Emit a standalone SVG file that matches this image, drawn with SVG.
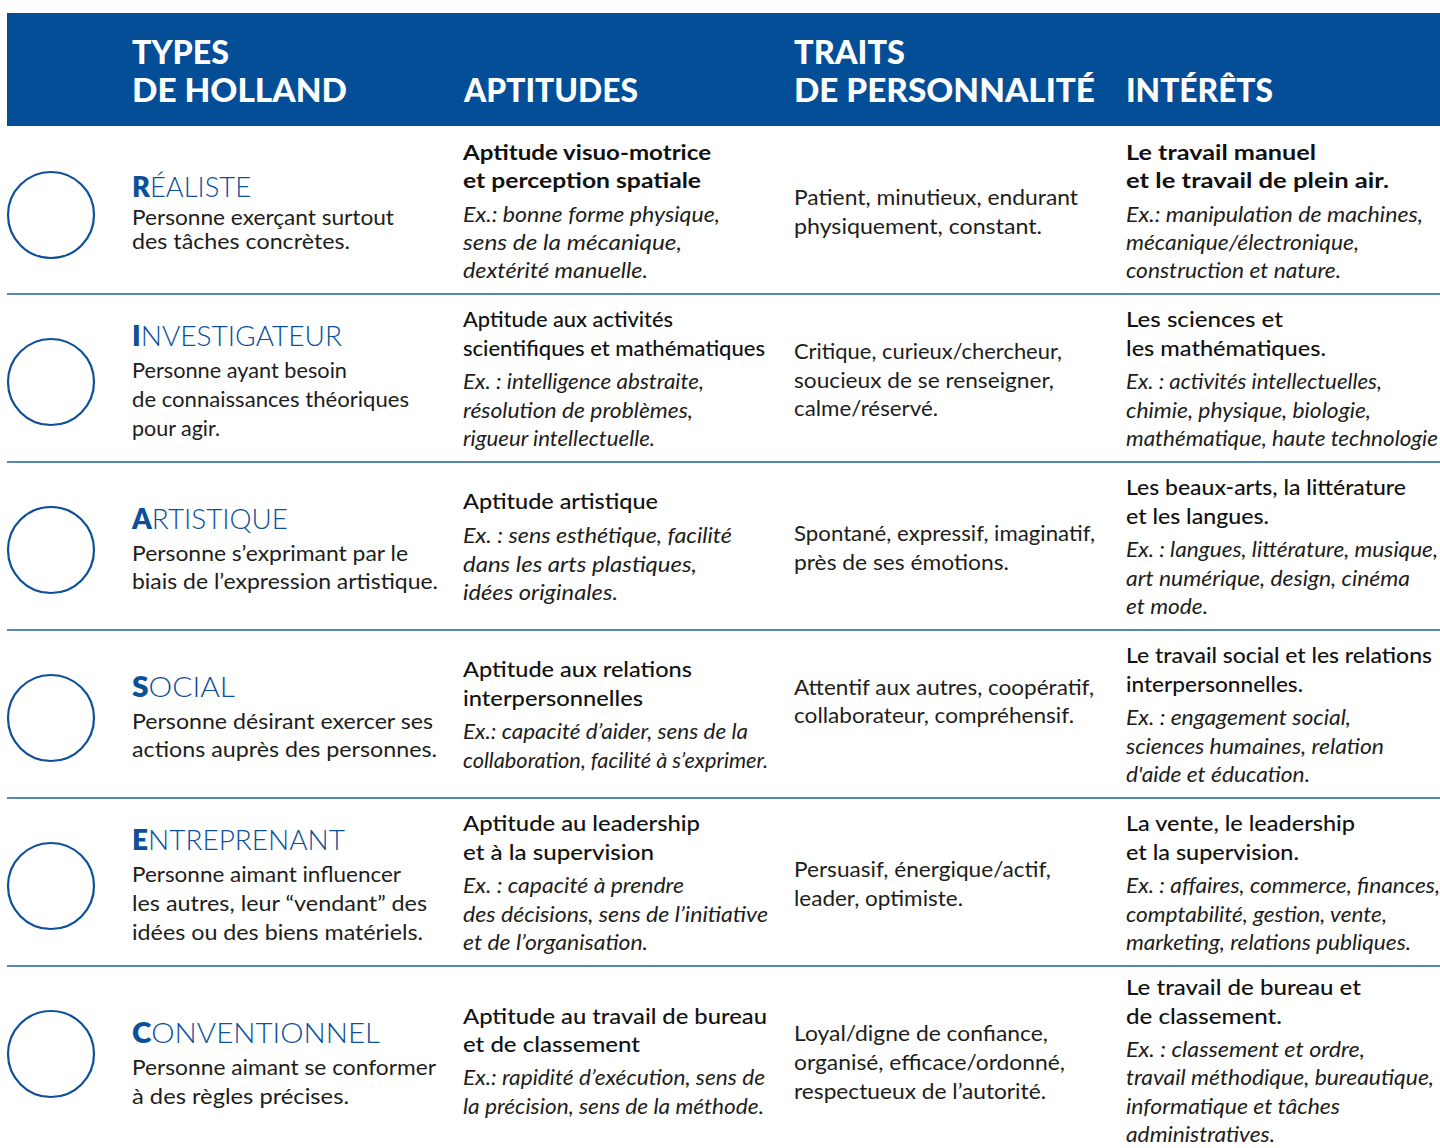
<svg xmlns="http://www.w3.org/2000/svg" width="1440" height="1148" viewBox="0 0 1440 1148">
<style>
text{font-family:Lato,"Noto Sans","Liberation Sans",sans-serif;}
.h{font-size:33px;font-weight:900;fill:#ffffff;}
.t{font-size:28px;font-weight:300;fill:#0c4f9b;}
.t tspan{font-weight:800;}
.b{font-size:21.5px;fill:#1d1d1b;}
.s{font-size:21.5px;font-weight:500;fill:#111111;}
.s1{font-size:21.5px;font-weight:700;fill:#111111;}
.i{font-size:21.5px;font-style:italic;fill:#1d1d1b;}
.c{fill:#ffffff;stroke:#0c4f9b;stroke-width:2.2;}
.r{stroke:#1c5ea8;stroke-width:1.6;}
</style>
<rect width="1440" height="1148" fill="#ffffff"/>
<g id="header">
<rect x="7" y="13" width="1433" height="113" fill="#044e98"/>
<text class="h" x="132" y="64" textLength="97" lengthAdjust="spacingAndGlyphs">TYPES</text>
<text class="h" x="132" y="102" textLength="215" lengthAdjust="spacingAndGlyphs">DE HOLLAND</text>
<text class="h" x="464" y="102" textLength="174" lengthAdjust="spacingAndGlyphs">APTITUDES</text>
<text class="h" x="794" y="64" textLength="111" lengthAdjust="spacingAndGlyphs">TRAITS</text>
<text class="h" x="794" y="102" textLength="301" lengthAdjust="spacingAndGlyphs">DE PERSONNALITÉ</text>
<text class="h" x="1126" y="102" textLength="147" lengthAdjust="spacingAndGlyphs">INTÉRÊTS</text>
</g>
<g id="rules">
<line class="r" x1="7" y1="294" x2="1440" y2="294"/>
<line class="r" x1="7" y1="462" x2="1440" y2="462"/>
<line class="r" x1="7" y1="630" x2="1440" y2="630"/>
<line class="r" x1="7" y1="798" x2="1440" y2="798"/>
<line class="r" x1="7" y1="966" x2="1440" y2="966"/>
</g>
<g id="realiste">
<circle class="c" cx="51" cy="215" r="43"/>
<text class="t" x="132" y="197" textLength="119" lengthAdjust="spacingAndGlyphs"><tspan>R</tspan>ÉALISTE</text>
<text class="b" x="132" y="225" textLength="262" lengthAdjust="spacingAndGlyphs">Personne exerçant surtout</text>
<text class="b" x="132" y="249" textLength="218" lengthAdjust="spacingAndGlyphs">des tâches concrètes.</text>
<text class="s1" x="463" y="160" textLength="248" lengthAdjust="spacingAndGlyphs">Aptitude visuo-motrice</text>
<text class="s1" x="463" y="188" textLength="238" lengthAdjust="spacingAndGlyphs">et perception spatiale</text>
<text class="i" x="463" y="222" textLength="257" lengthAdjust="spacingAndGlyphs">Ex.: bonne forme physique,</text>
<text class="i" x="463" y="250" textLength="219" lengthAdjust="spacingAndGlyphs">sens de la mécanique,</text>
<text class="i" x="463" y="278" textLength="185" lengthAdjust="spacingAndGlyphs">dextérité manuelle.</text>
<text class="b" x="794" y="205" textLength="284" lengthAdjust="spacingAndGlyphs">Patient, minutieux, endurant</text>
<text class="b" x="794" y="234" textLength="248" lengthAdjust="spacingAndGlyphs">physiquement, constant.</text>
<text class="s1" x="1126" y="160" textLength="190" lengthAdjust="spacingAndGlyphs">Le travail manuel</text>
<text class="s1" x="1126" y="188" textLength="263" lengthAdjust="spacingAndGlyphs">et le travail de plein air.</text>
<text class="i" x="1126" y="222" textLength="297" lengthAdjust="spacingAndGlyphs">Ex.: manipulation de machines,</text>
<text class="i" x="1126" y="250" textLength="233" lengthAdjust="spacingAndGlyphs">mécanique/électronique,</text>
<text class="i" x="1126" y="278" textLength="215" lengthAdjust="spacingAndGlyphs">construction et nature.</text>
</g>
<g id="investigateur">
<circle class="c" cx="51" cy="382" r="43"/>
<text class="t" x="132" y="346" textLength="210" lengthAdjust="spacingAndGlyphs"><tspan>I</tspan>NVESTIGATEUR</text>
<text class="b" x="132" y="378" textLength="215" lengthAdjust="spacingAndGlyphs">Personne ayant besoin</text>
<text class="b" x="132" y="407" textLength="277" lengthAdjust="spacingAndGlyphs">de connaissances théoriques</text>
<text class="b" x="132" y="436" textLength="88" lengthAdjust="spacingAndGlyphs">pour agir.</text>
<text class="s" x="463" y="327" textLength="210" lengthAdjust="spacingAndGlyphs">Aptitude aux activités</text>
<text class="s" x="463" y="356" textLength="302" lengthAdjust="spacingAndGlyphs">scientifiques et mathématiques</text>
<text class="i" x="463" y="389" textLength="241" lengthAdjust="spacingAndGlyphs">Ex. : intelligence abstraite,</text>
<text class="i" x="463" y="418" textLength="230" lengthAdjust="spacingAndGlyphs">résolution de problèmes,</text>
<text class="i" x="463" y="446" textLength="192" lengthAdjust="spacingAndGlyphs">rigueur intellectuelle.</text>
<text class="b" x="794" y="359" textLength="268" lengthAdjust="spacingAndGlyphs">Critique, curieux/chercheur,</text>
<text class="b" x="794" y="388" textLength="260" lengthAdjust="spacingAndGlyphs">soucieux de se renseigner,</text>
<text class="b" x="794" y="416" textLength="144" lengthAdjust="spacingAndGlyphs">calme/réservé.</text>
<text class="s" x="1126" y="327" textLength="157" lengthAdjust="spacingAndGlyphs">Les sciences et</text>
<text class="s" x="1126" y="356" textLength="200" lengthAdjust="spacingAndGlyphs">les mathématiques.</text>
<text class="i" x="1126" y="389" textLength="256" lengthAdjust="spacingAndGlyphs">Ex. : activités intellectuelles,</text>
<text class="i" x="1126" y="418" textLength="245" lengthAdjust="spacingAndGlyphs">chimie, physique, biologie,</text>
<text class="i" x="1126" y="446" textLength="312" lengthAdjust="spacingAndGlyphs">mathématique, haute technologie</text>
</g>
<g id="artistique">
<circle class="c" cx="51" cy="550" r="43"/>
<text class="t" x="132" y="529" textLength="156" lengthAdjust="spacingAndGlyphs"><tspan>A</tspan>RTISTIQUE</text>
<text class="b" x="132" y="561" textLength="276" lengthAdjust="spacingAndGlyphs">Personne s’exprimant par le</text>
<text class="b" x="132" y="589" textLength="306" lengthAdjust="spacingAndGlyphs">biais de l’expression artistique.</text>
<text class="s" x="463" y="509" textLength="195" lengthAdjust="spacingAndGlyphs">Aptitude artistique</text>
<text class="i" x="463" y="543" textLength="269" lengthAdjust="spacingAndGlyphs">Ex. : sens esthétique, facilité</text>
<text class="i" x="463" y="572" textLength="234" lengthAdjust="spacingAndGlyphs">dans les arts plastiques,</text>
<text class="i" x="463" y="600" textLength="155" lengthAdjust="spacingAndGlyphs">idées originales.</text>
<text class="b" x="794" y="541" textLength="301" lengthAdjust="spacingAndGlyphs">Spontané, expressif, imaginatif,</text>
<text class="b" x="794" y="570" textLength="215" lengthAdjust="spacingAndGlyphs">près de ses émotions.</text>
<text class="s" x="1126" y="495" textLength="280" lengthAdjust="spacingAndGlyphs">Les beaux-arts, la littérature</text>
<text class="s" x="1126" y="524" textLength="143" lengthAdjust="spacingAndGlyphs">et les langues.</text>
<text class="i" x="1126" y="557" textLength="312" lengthAdjust="spacingAndGlyphs">Ex. : langues, littérature, musique,</text>
<text class="i" x="1126" y="586" textLength="284" lengthAdjust="spacingAndGlyphs">art numérique, design, cinéma</text>
<text class="i" x="1126" y="614" textLength="82" lengthAdjust="spacingAndGlyphs">et mode.</text>
</g>
<g id="social">
<circle class="c" cx="51" cy="718" r="43"/>
<text class="t" x="132" y="697" textLength="103" lengthAdjust="spacingAndGlyphs"><tspan>S</tspan>OCIAL</text>
<text class="b" x="132" y="729" textLength="301" lengthAdjust="spacingAndGlyphs">Personne désirant exercer ses</text>
<text class="b" x="132" y="757" textLength="305" lengthAdjust="spacingAndGlyphs">actions auprès des personnes.</text>
<text class="s" x="463" y="677" textLength="229" lengthAdjust="spacingAndGlyphs">Aptitude aux relations</text>
<text class="s" x="463" y="706" textLength="180" lengthAdjust="spacingAndGlyphs">interpersonnelles</text>
<text class="i" x="463" y="739" textLength="285" lengthAdjust="spacingAndGlyphs">Ex.: capacité d’aider, sens de la</text>
<text class="i" x="463" y="768" textLength="305" lengthAdjust="spacingAndGlyphs">collaboration, facilité à s’exprimer.</text>
<text class="b" x="794" y="695" textLength="300" lengthAdjust="spacingAndGlyphs">Attentif aux autres, coopératif,</text>
<text class="b" x="794" y="723" textLength="280" lengthAdjust="spacingAndGlyphs">collaborateur, compréhensif.</text>
<text class="s" x="1126" y="663" textLength="306" lengthAdjust="spacingAndGlyphs">Le travail social et les relations</text>
<text class="s" x="1126" y="692" textLength="177" lengthAdjust="spacingAndGlyphs">interpersonnelles.</text>
<text class="i" x="1126" y="725" textLength="225" lengthAdjust="spacingAndGlyphs">Ex. : engagement social,</text>
<text class="i" x="1126" y="754" textLength="258" lengthAdjust="spacingAndGlyphs">sciences humaines, relation</text>
<text class="i" x="1126" y="782" textLength="184" lengthAdjust="spacingAndGlyphs">d'aide et éducation.</text>
</g>
<g id="entreprenant">
<circle class="c" cx="51" cy="886" r="43"/>
<text class="t" x="132" y="850" textLength="213" lengthAdjust="spacingAndGlyphs"><tspan>E</tspan>NTREPRENANT</text>
<text class="b" x="132" y="882" textLength="269" lengthAdjust="spacingAndGlyphs">Personne aimant influencer</text>
<text class="b" x="132" y="911" textLength="295" lengthAdjust="spacingAndGlyphs">les autres, leur “vendant” des</text>
<text class="b" x="132" y="940" textLength="291" lengthAdjust="spacingAndGlyphs">idées ou des biens matériels.</text>
<text class="s" x="463" y="831" textLength="237" lengthAdjust="spacingAndGlyphs">Aptitude au leadership</text>
<text class="s" x="463" y="860" textLength="191" lengthAdjust="spacingAndGlyphs">et à la supervision</text>
<text class="i" x="463" y="893" textLength="221" lengthAdjust="spacingAndGlyphs">Ex. : capacité à prendre</text>
<text class="i" x="463" y="922" textLength="305" lengthAdjust="spacingAndGlyphs">des décisions, sens de l’initiative</text>
<text class="i" x="463" y="950" textLength="185" lengthAdjust="spacingAndGlyphs">et de l’organisation.</text>
<text class="b" x="794" y="877" textLength="257" lengthAdjust="spacingAndGlyphs">Persuasif, énergique/actif,</text>
<text class="b" x="794" y="906" textLength="169" lengthAdjust="spacingAndGlyphs">leader, optimiste.</text>
<text class="s" x="1126" y="831" textLength="229" lengthAdjust="spacingAndGlyphs">La vente, le leadership</text>
<text class="s" x="1126" y="860" textLength="173" lengthAdjust="spacingAndGlyphs">et la supervision.</text>
<text class="i" x="1126" y="893" textLength="314" lengthAdjust="spacingAndGlyphs">Ex. : affaires, commerce, finances,</text>
<text class="i" x="1126" y="922" textLength="261" lengthAdjust="spacingAndGlyphs">comptabilité, gestion, vente,</text>
<text class="i" x="1126" y="950" textLength="285" lengthAdjust="spacingAndGlyphs">marketing, relations publiques.</text>
</g>
<g id="conventionnel">
<circle class="c" cx="51" cy="1054" r="43"/>
<text class="t" x="132" y="1043" textLength="248" lengthAdjust="spacingAndGlyphs"><tspan>C</tspan>ONVENTIONNEL</text>
<text class="b" x="132" y="1075" textLength="304" lengthAdjust="spacingAndGlyphs">Personne aimant se conformer</text>
<text class="b" x="132" y="1104" textLength="217" lengthAdjust="spacingAndGlyphs">à des règles précises.</text>
<text class="s" x="463" y="1024" textLength="304" lengthAdjust="spacingAndGlyphs">Aptitude au travail de bureau</text>
<text class="s" x="463" y="1052" textLength="177" lengthAdjust="spacingAndGlyphs">et de classement</text>
<text class="i" x="463" y="1085" textLength="302" lengthAdjust="spacingAndGlyphs">Ex.: rapidité d’exécution, sens de</text>
<text class="i" x="463" y="1114" textLength="301" lengthAdjust="spacingAndGlyphs">la précision, sens de la méthode.</text>
<text class="b" x="794" y="1041" textLength="254" lengthAdjust="spacingAndGlyphs">Loyal/digne de confiance,</text>
<text class="b" x="794" y="1070" textLength="271" lengthAdjust="spacingAndGlyphs">organisé, efficace/ordonné,</text>
<text class="b" x="794" y="1099" textLength="252" lengthAdjust="spacingAndGlyphs">respectueux de l’autorité.</text>
<text class="s" x="1126" y="995" textLength="235" lengthAdjust="spacingAndGlyphs">Le travail de bureau et</text>
<text class="s" x="1126" y="1024" textLength="156" lengthAdjust="spacingAndGlyphs">de classement.</text>
<text class="i" x="1126" y="1057" textLength="239" lengthAdjust="spacingAndGlyphs">Ex. : classement et ordre,</text>
<text class="i" x="1126" y="1085" textLength="308" lengthAdjust="spacingAndGlyphs">travail méthodique, bureautique,</text>
<text class="i" x="1126" y="1114" textLength="214" lengthAdjust="spacingAndGlyphs">informatique et tâches</text>
<text class="i" x="1126" y="1142" textLength="149" lengthAdjust="spacingAndGlyphs">administratives.</text>
</g>
</svg>
